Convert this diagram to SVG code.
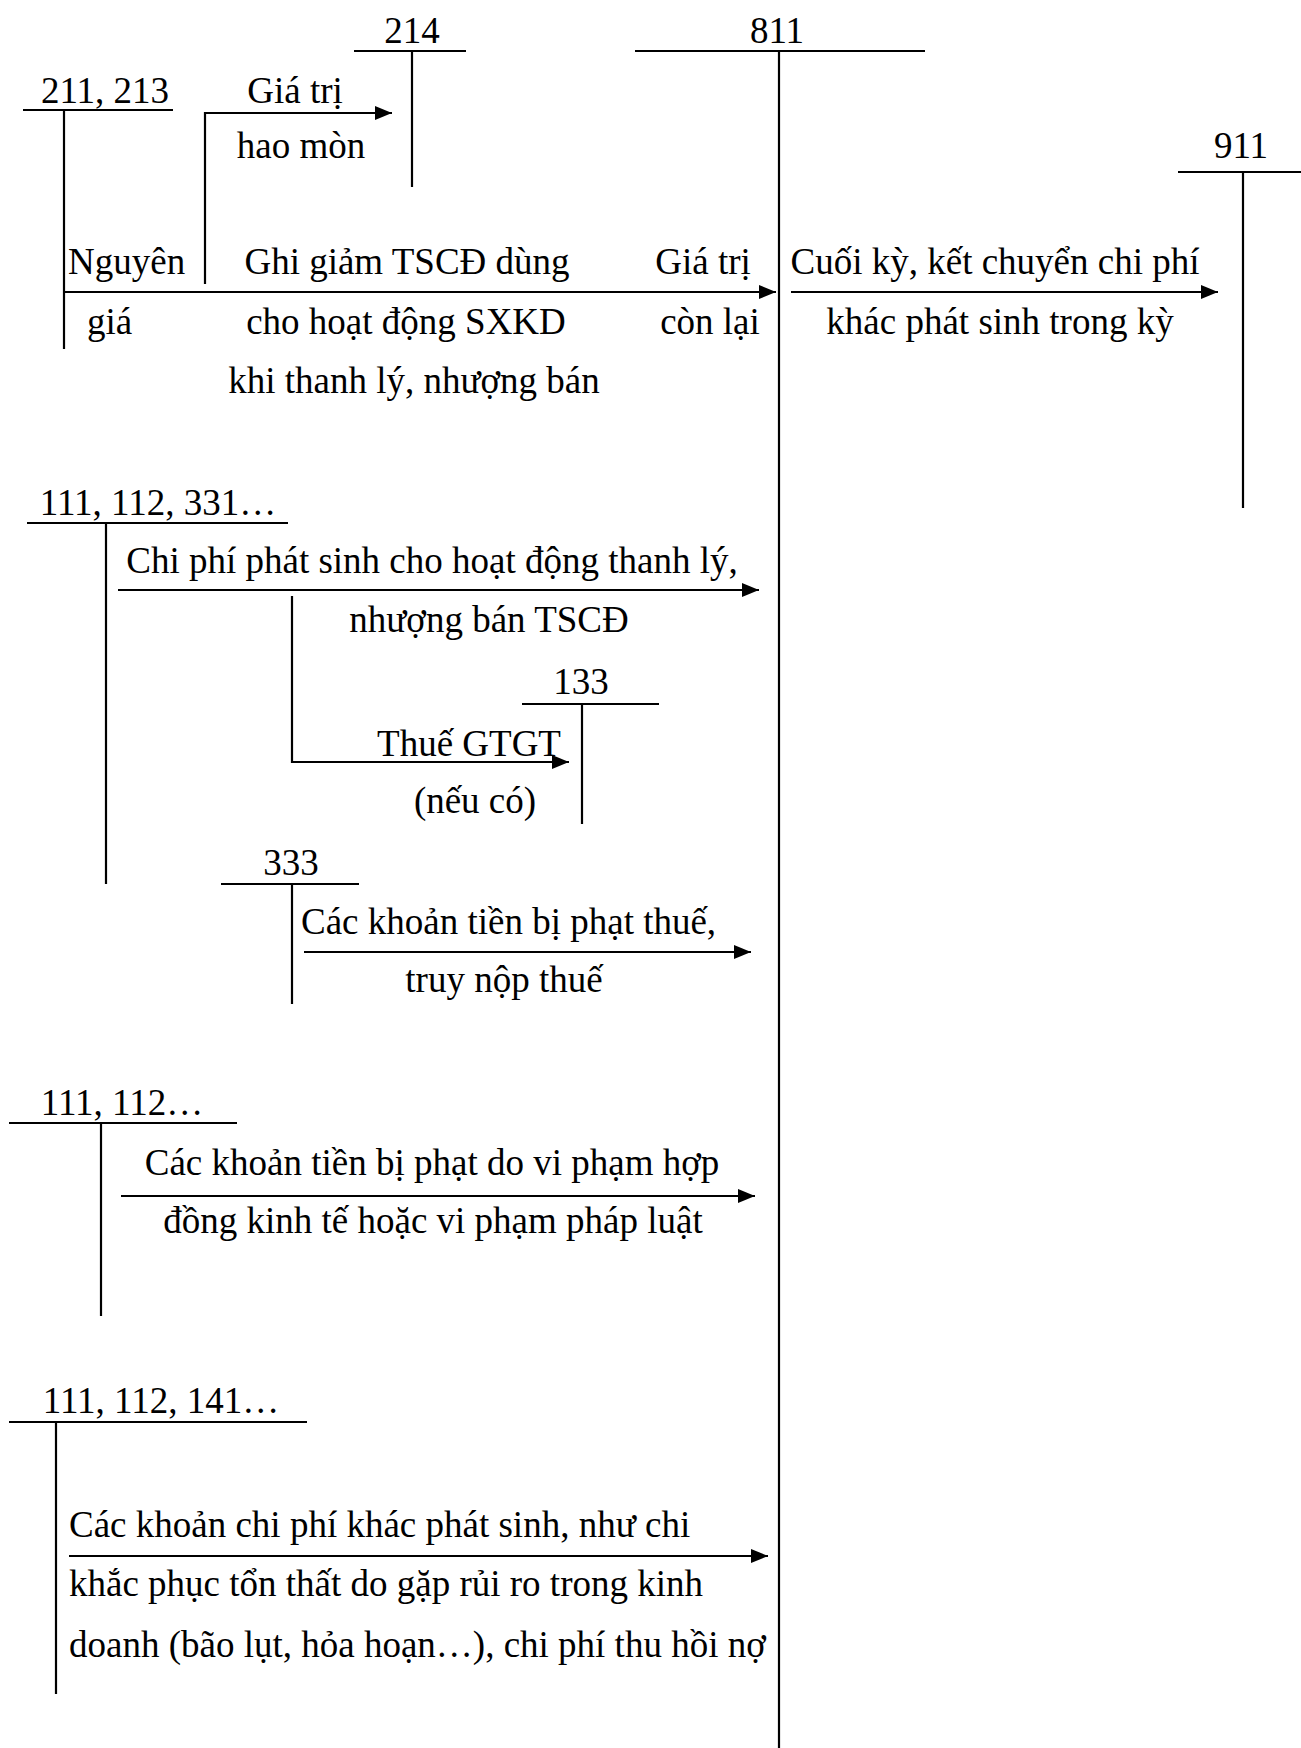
<svg xmlns="http://www.w3.org/2000/svg" width="1301" height="1748" viewBox="0 0 1301 1748">
<style>
text{font-family:"Liberation Serif","Times New Roman",serif;font-size:37px;fill:#000}
.m{text-anchor:middle}
line,path{stroke:#000;stroke-width:2.2;fill:none}
.a{marker-end:url(#ah)}
</style>
<defs>
<marker id="ah" markerUnits="userSpaceOnUse" markerWidth="18" markerHeight="16" refX="17" refY="8" orient="auto">
<path d="M0,1 L17,8 L0,15 z" style="fill:#000;stroke:none"/>
</marker>
</defs>
<rect width="1301" height="1748" fill="#fff"/>

<g id="acc-214">
<text class="m" x="412" y="43">214</text>
<line x1="354" y1="51" x2="466" y2="51"/>
<line x1="412" y1="51" x2="412" y2="187"/>
</g>
<g id="acc-811">
<text class="m" x="777" y="43">811</text>
<line x1="635" y1="51" x2="925" y2="51"/>
<line x1="779" y1="51" x2="779" y2="1748"/>
</g>
<g id="acc-211-213">
<text class="m" x="105" y="103">211, 213</text>
<line x1="23" y1="110" x2="173" y2="110"/>
<line x1="64" y1="110" x2="64" y2="349"/>
</g>
<g id="acc-911">
<text class="m" x="1241" y="158">911</text>
<line x1="1178" y1="172" x2="1301" y2="172"/>
<line x1="1243" y1="172" x2="1243" y2="508"/>
</g>
<g id="acc-111-112-331">
<text class="m" x="158" y="515">111, 112, 331…</text>
<line x1="27" y1="523" x2="288" y2="523"/>
<line x1="106" y1="523" x2="106" y2="884"/>
</g>
<g id="acc-133">
<text class="m" x="581" y="694">133</text>
<line x1="522" y1="704" x2="659" y2="704"/>
<line x1="582" y1="704" x2="582" y2="824"/>
</g>
<g id="acc-333">
<text class="m" x="291" y="875">333</text>
<line x1="221" y1="884" x2="359" y2="884"/>
<line x1="292" y1="884" x2="292" y2="1004"/>
</g>
<g id="acc-111-112">
<text class="m" x="122" y="1115">111, 112…</text>
<line x1="9" y1="1123" x2="237" y2="1123"/>
<line x1="101" y1="1123" x2="101" y2="1316"/>
</g>
<g id="acc-111-112-141">
<text class="m" x="161" y="1413">111, 112, 141…</text>
<line x1="9" y1="1422" x2="307" y2="1422"/>
<line x1="56" y1="1422" x2="56" y2="1694"/>
</g>

<g id="connectors">
<path class="a" d="M205,284 V113 H392"/>
<path class="a" d="M64,292 H776"/>
<path class="a" d="M791,292 H1218"/>
<path class="a" d="M118,590 H759"/>
<path class="a" d="M292,596 V762 H569"/>
<path class="a" d="M304,952 H751"/>
<path class="a" d="M121,1196 H755"/>
<path class="a" d="M69,1556 H768"/>
</g>

<g id="labels">
<text class="m" x="295" y="103">Giá trị</text>
<text class="m" x="301" y="158">hao mòn</text>
<text x="68" y="274">Nguyên</text>
<text x="87" y="334">giá</text>
<text class="m" x="407" y="274">Ghi giảm TSCĐ dùng</text>
<text class="m" x="406" y="334">cho hoạt động SXKD</text>
<text class="m" x="414" y="393">khi thanh lý, nhượng bán</text>
<text class="m" x="703" y="274">Giá trị</text>
<text class="m" x="710" y="334">còn lại</text>
<text class="m" x="995" y="274">Cuối kỳ, kết chuyển chi phí</text>
<text class="m" x="1000" y="334">khác phát sinh trong kỳ</text>
<text class="m" x="432" y="573">Chi phí phát sinh cho hoạt động thanh lý,</text>
<text class="m" x="489" y="632">nhượng bán TSCĐ</text>
<text class="m" x="469" y="756">Thuế GTGT</text>
<text class="m" x="475" y="813">(nếu có)</text>
<text x="301" y="934">Các khoản tiền bị phạt thuế,</text>
<text class="m" x="504" y="992">truy nộp thuế</text>
<text class="m" x="432" y="1175">Các khoản tiền bị phạt do vi phạm hợp</text>
<text class="m" x="433" y="1233">đồng kinh tế hoặc vi phạm pháp luật</text>
<text x="69" y="1537">Các khoản chi phí khác phát sinh, như chi</text>
<text x="69" y="1596">khắc phục tổn thất do gặp rủi ro trong kinh</text>
<text x="69" y="1657">doanh (bão lụt, hỏa hoạn…), chi phí thu hồi nợ</text>
</g>
</svg>
